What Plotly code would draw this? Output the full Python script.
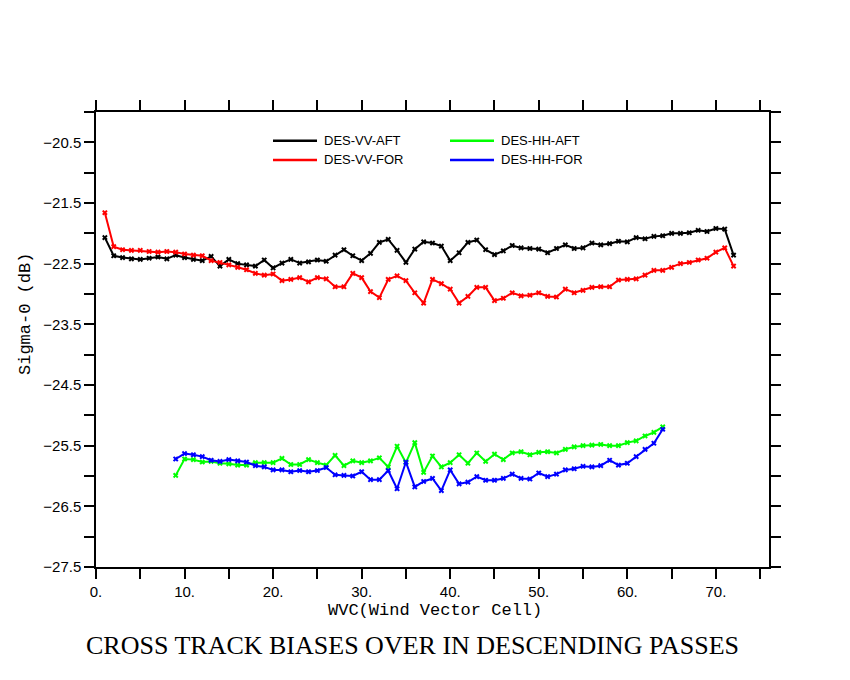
import plotly.graph_objects as go

# wind vector cells
vv_cells = list(range(1, 73))
hh_cells = list(range(9, 65))

vv_aft = [-22.07, -22.37, -22.40, -22.42, -22.43, -22.41, -22.39, -22.42, -22.36, -22.40,
          -22.43, -22.45, -22.38, -22.54, -22.43, -22.50, -22.52, -22.54, -22.44, -22.57,
          -22.49, -22.43, -22.49, -22.47, -22.44, -22.46, -22.36, -22.27, -22.37, -22.45,
          -22.33, -22.15, -22.10, -22.28, -22.48, -22.26, -22.14, -22.16, -22.21, -22.45,
          -22.32, -22.15, -22.11, -22.27, -22.35, -22.29, -22.20, -22.24, -22.25, -22.26,
          -22.32, -22.25, -22.19, -22.25, -22.24, -22.16, -22.19, -22.17, -22.13, -22.14,
          -22.07, -22.09, -22.05, -22.04, -22.00, -22.00, -21.99, -21.95, -21.97, -21.92,
          -21.93, -22.36]

vv_for = [-21.66, -22.22, -22.27, -22.28, -22.28, -22.30, -22.31, -22.30, -22.31, -22.34,
          -22.36, -22.37, -22.45, -22.48, -22.52, -22.56, -22.60, -22.66, -22.69, -22.67,
          -22.78, -22.76, -22.73, -22.80, -22.73, -22.75, -22.88, -22.88, -22.66, -22.73,
          -22.96, -23.06, -22.76, -22.70, -22.78, -22.98, -23.15, -22.76, -22.83, -22.92,
          -23.15, -23.04, -22.89, -22.89, -23.11, -23.07, -22.98, -23.03, -23.02, -22.98,
          -23.04, -23.05, -22.92, -22.98, -22.94, -22.89, -22.88, -22.88, -22.77, -22.76,
          -22.75, -22.69, -22.61, -22.61, -22.56, -22.50, -22.48, -22.44, -22.41, -22.31,
          -22.24, -22.54]

hh_aft = [-25.99, -25.72, -25.73, -25.77, -25.76, -25.79, -25.80, -25.82, -25.82, -25.78,
          -25.78, -25.78, -25.71, -25.81, -25.81, -25.73, -25.78, -25.82, -25.66, -25.83,
          -25.75, -25.78, -25.75, -25.70, -25.85, -25.51, -25.78, -25.45, -25.94, -25.67,
          -25.85, -25.78, -25.65, -25.79, -25.62, -25.76, -25.64, -25.73, -25.62, -25.60,
          -25.65, -25.61, -25.60, -25.62, -25.56, -25.52, -25.50, -25.49, -25.48, -25.50,
          -25.50, -25.45, -25.42, -25.34, -25.28, -25.19]

hh_for = [-25.72, -25.63, -25.65, -25.68, -25.74, -25.76, -25.73, -25.75, -25.77, -25.83,
          -25.85, -25.90, -25.90, -25.93, -25.91, -25.93, -25.91, -25.86, -25.98, -25.99,
          -26.00, -25.93, -26.06, -26.06, -25.91, -26.21, -25.77, -26.18, -26.09, -26.04,
          -26.24, -25.90, -26.13, -26.10, -26.01, -26.07, -26.07, -26.04, -25.97, -26.04,
          -26.05, -25.95, -26.01, -25.97, -25.90, -25.88, -25.84, -25.85, -25.83, -25.74,
          -25.82, -25.79, -25.68, -25.56, -25.46, -25.23]

x_tickvals = [0, 5, 10, 15, 20, 25, 30, 35, 40, 45, 50, 55, 60, 65, 70, 75]
x_ticktext = ["0.", "", "10.", "", "20.", "", "30.", "", "40.", "", "50.", "", "60.", "", "70.", ""]
y_tickvals = [-27.5, -27.0, -26.5, -26.0, -25.5, -25.0, -24.5, -24.0,
              -23.5, -23.0, -22.5, -22.0, -21.5, -21.0, -20.5, -20.0]
y_ticktext = ["\u221227.5", "", "\u221226.5", "", "\u221225.5", "", "\u221224.5", "",
              "\u221223.5", "", "\u221222.5", "", "\u221221.5", "", "\u221220.5", ""]

series = [
    ("DES-VV-AFT", vv_cells, vv_aft, "#000000"),
    ("DES-VV-FOR", vv_cells, vv_for, "#ff0000"),
    ("DES-HH-AFT", hh_cells, hh_aft, "#00ff00"),
    ("DES-HH-FOR", hh_cells, hh_for, "#0000ff"),
]

# page body adds an 8px offset, so the figure is laid out 8px up/left
OFF = 8
W, H = 850, 680
L, R, T, B = 96 - OFF, 81 + OFF, 112 - OFF, 113 + OFF
pw, ph = W - L - R, H - T - B


def px(x, y):
    # screen pixel position -> paper coords
    return (x - OFF - L) / pw, (H - B - (y - OFF)) / ph


fig = go.Figure()
for name, xs, ys, col in series:
    fig.add_trace(go.Scatter(
        x=xs, y=ys, name=name, mode="lines+markers",
        line=dict(color=col, width=2),
        marker=dict(symbol="x", size=5, color=col),
        showlegend=False,
    ))

# hand made legend, two columns
legend_slots = [(273, 140.7), (273, 160), (450, 140.7), (450, 160)]
shapes = []
annotations = []
for (name, _, _, col), (lx, ly) in zip(series, legend_slots):
    x0, y0 = px(lx, ly)
    x1, _ = px(lx + 44, ly)
    xt, _ = px(lx + 49, ly)
    shapes.append(dict(type="line", xref="paper", yref="paper", x0=x0, x1=x1, y0=y0, y1=y0,
                       line=dict(color=col, width=2.5)))
    annotations.append(dict(text=name, xref="paper", yref="paper", x=xt, y=y0,
                            xanchor="left", yanchor="middle", showarrow=False,
                            font=dict(family="Liberation Sans", size=13, color="black")))

tx, ty = px(412, 645)
annotations.append(dict(text="CROSS TRACK BIASES OVER IN DESCENDING PASSES", xref="paper", yref="paper",
                        x=tx, y=ty, xanchor="center", yanchor="middle", showarrow=False,
                        font=dict(family="Liberation Serif", size=26, color="black")))
wx, wy = px(435, 610)
annotations.append(dict(text="WVC(Wind Vector Cell)", xref="paper", yref="paper",
                        x=wx, y=wy, xanchor="center", yanchor="middle", showarrow=False,
                        font=dict(family="Liberation Mono", size=17, color="black")))
sx, sy = px(25, 314)
annotations.append(dict(text="Sigma-0 (dB)", xref="paper", yref="paper", textangle=-90,
                        x=sx, y=sy, xanchor="center", yanchor="middle", showarrow=False,
                        font=dict(family="Liberation Mono", size=17, color="black")))

axis_style = dict(showline=True, linecolor="black", linewidth=1.5, mirror="ticks",
                  ticks="outside", ticklen=10, tickwidth=1.5, tickcolor="black",
                  showgrid=False, zeroline=False,
                  tickfont=dict(family="Liberation Sans", size=15, color="black"))

fig.update_layout(
    width=W, height=H,
    margin=dict(l=L, r=R, t=T, b=B),
    paper_bgcolor="white", plot_bgcolor="white",
    shapes=shapes, annotations=annotations,
    xaxis=dict(range=[0, 76], tickmode="array", tickvals=x_tickvals, ticktext=x_ticktext, **axis_style),
    yaxis=dict(range=[-27.5, -20], tickmode="array", tickvals=y_tickvals, ticktext=y_ticktext, **axis_style),
)

fig.write_html("out.html")
